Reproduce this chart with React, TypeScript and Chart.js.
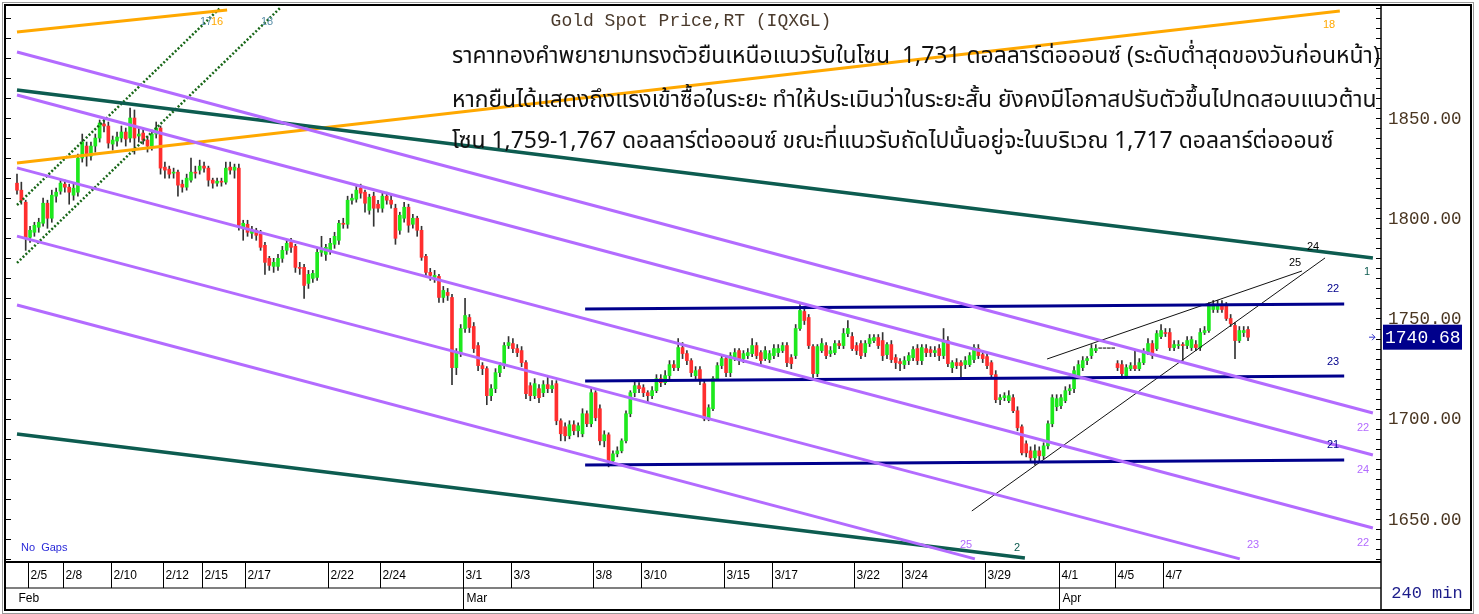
import React, { useEffect, useRef } from "react";
import { Chart, registerables } from "chart.js";

Chart.register(...registerables);

// ---- 240-minute OHLC bars, Gold Spot ----
const opens: number[] = [
  1817.5, 1814, 1808, 1790.5, 1793, 1795.5, 1797.5, 1807.5, 1800, 1811,
  1813.5, 1817, 1815.5, 1811.5, 1813, 1830, 1836, 1831, 1836, 1840,
  1847, 1846, 1837, 1838.5, 1840, 1843, 1840, 1850, 1841, 1842.5,
  1839, 1836, 1842, 1845, 1825.5, 1824.5, 1822.5, 1823, 1817, 1815.5,
  1819, 1823, 1824, 1826, 1825, 1819, 1817.5, 1818.5, 1818, 1825.5,
  1824, 1825, 1795.5, 1797, 1792.5, 1794, 1792, 1786.5, 1780, 1776,
  1776, 1780, 1784, 1788, 1786, 1775.5, 1775.5, 1767.5, 1770, 1770.5,
  1783, 1782, 1784, 1787, 1789, 1797.5, 1797, 1809, 1809.5, 1815,
  1813, 1804, 1811, 1807, 1805, 1811, 1809, 1805, 1794, 1800,
  1805.5, 1797, 1800, 1794, 1781, 1773, 1770.5, 1771, 1760.5, 1763,
  1760.5, 1725.5, 1733, 1745, 1750.5, 1746, 1736.5, 1726.5, 1725, 1711.5,
  1715, 1723, 1726.5, 1736.5, 1737.5, 1735, 1734, 1728, 1716.5, 1711.5,
  1715, 1713, 1717, 1715, 1717.5, 1699, 1696, 1691.5, 1697, 1694,
  1692.5, 1702.5, 1697.5, 1713, 1705, 1689, 1692, 1679, 1682.5, 1684,
  1689, 1702.5, 1713, 1716.5, 1715.5, 1713, 1711.5, 1714, 1720, 1718,
  1721.5, 1727, 1725.5, 1735.5, 1732.5, 1729, 1721.5, 1724.5, 1717.5, 1700,
  1705, 1720, 1726.5, 1730, 1723, 1730.5, 1734, 1730, 1731.5, 1732.5,
  1736.5, 1733, 1730, 1729.5, 1731.5, 1733, 1734, 1736.5, 1730.5, 1731.5,
  1745, 1753.5, 1750.5, 1736, 1722.5, 1734, 1736.5, 1732.5, 1733, 1737.5,
  1736.5, 1742.5, 1741, 1736.5, 1737.5, 1733, 1737.5, 1739, 1740.5, 1739,
  1732, 1737, 1730.5, 1728.5, 1727, 1729, 1730.5, 1735, 1729, 1735,
  1734.5, 1733, 1735, 1731.5, 1739, 1725.5, 1728, 1728, 1727, 1727,
  1729.5, 1735, 1732, 1731, 1728, 1722, 1709.5, 1710.5, 1709, 1710.5,
  1704, 1696, 1687.5, 1684, 1680.5, 1684, 1681.5, 1686.5, 1697.5, 1706,
  1706.5, 1709, 1714, 1715, 1721.5, 1725.5, 1729, 1731.5, 1734, 1735,
  1735, 1735, 1735, 1727.5, 1727, 1721, 1725, 1726.5, 1725, 1728,
  1733, 1737.5, 1735, 1741, 1743, 1743, 1735.5, 1736.5, 1737, 1736.5,
  1735.5, 1737, 1735.5, 1743, 1744, 1754.5, 1754.5, 1757, 1756.5, 1750,
  1746.5, 1739, 1743, 1744.5,
];
const highs: number[] = [
  1822, 1818, 1809, 1796, 1798, 1800, 1810, 1809, 1814, 1815,
  1819, 1819, 1817, 1817, 1832, 1842, 1838, 1838, 1842, 1849,
  1850, 1848, 1841, 1843, 1846, 1845, 1855, 1854, 1845, 1845,
  1841, 1844, 1848, 1846, 1828, 1826, 1825, 1824, 1819, 1822,
  1830, 1826, 1829, 1828, 1826, 1820, 1820, 1820, 1828, 1828,
  1827, 1827, 1799, 1799, 1796, 1795, 1794, 1788, 1781, 1780,
  1782, 1786, 1789, 1790, 1787, 1778, 1777, 1774, 1774, 1785,
  1791, 1787, 1790, 1793, 1799, 1800, 1811, 1812, 1816, 1817,
  1814, 1812, 1813, 1809, 1813, 1813, 1812, 1807, 1803, 1808,
  1807, 1802, 1801, 1796, 1782, 1775, 1774, 1772, 1766, 1765,
  1762, 1735, 1747, 1760, 1752, 1748, 1738, 1728, 1726, 1717,
  1725, 1728, 1738, 1741, 1740, 1737, 1736, 1729, 1718, 1720,
  1717, 1719, 1721, 1719, 1719, 1700, 1698, 1699, 1699, 1698,
  1705, 1704, 1715, 1714, 1707, 1694, 1693, 1684, 1686, 1690,
  1704, 1714, 1719, 1718, 1717, 1714, 1716, 1722, 1722, 1724,
  1729, 1729, 1740, 1738, 1734, 1730, 1726, 1726, 1719, 1707,
  1721, 1728, 1732, 1731, 1733, 1735, 1735, 1734, 1735, 1740,
  1738, 1734, 1736, 1734, 1737, 1737, 1738, 1738, 1732, 1747,
  1757, 1756, 1752, 1737, 1737, 1740, 1738, 1736, 1739, 1739,
  1745, 1749, 1743, 1738, 1739, 1739, 1742, 1742, 1742, 1743,
  1738, 1739, 1732, 1730, 1731, 1733, 1736, 1737, 1737, 1737,
  1736, 1736, 1737, 1745, 1741, 1729, 1730, 1729, 1731, 1733,
  1737, 1737, 1734, 1733, 1729, 1724, 1712, 1713, 1714, 1712,
  1706, 1697, 1689, 1686, 1687, 1686, 1688, 1699, 1712, 1712,
  1712, 1716, 1717, 1726, 1729, 1731, 1731, 1737, 1737, 1735,
  1735, 1735, 1735, 1729, 1729, 1727, 1728, 1734, 1730, 1735,
  1740, 1739, 1744, 1747, 1745, 1745, 1739, 1739, 1738, 1741,
  1741, 1739, 1745, 1746, 1758, 1759, 1759, 1759, 1758, 1752,
  1748, 1746, 1746, 1746,
];
const lows: number[] = [
  1812, 1807, 1784, 1788, 1791, 1793, 1796, 1795, 1798, 1808,
  1812, 1813, 1807, 1809, 1811, 1828, 1826, 1829, 1833, 1838,
  1843, 1835, 1834, 1836, 1838, 1836, 1838, 1832, 1838, 1837,
  1833, 1834, 1840, 1822, 1820, 1820, 1820, 1811, 1813, 1814,
  1818, 1820, 1822, 1823, 1816, 1815, 1816, 1816, 1817, 1822,
  1820, 1794, 1789, 1791, 1790, 1789, 1784, 1772, 1774, 1773,
  1774, 1778, 1782, 1783, 1773, 1772, 1760, 1765, 1768, 1769,
  1781, 1779, 1782, 1785, 1787, 1795, 1795, 1807, 1808, 1810,
  1803, 1802, 1796, 1803, 1803, 1807, 1805, 1787, 1792, 1798,
  1793, 1795, 1791, 1779, 1771, 1769, 1768, 1758, 1758, 1759,
  1717, 1722, 1731, 1743, 1743, 1733, 1724, 1722, 1707, 1709,
  1713, 1721, 1725, 1735, 1733, 1731, 1726, 1710, 1709, 1710,
  1708, 1711, 1713, 1713, 1697, 1689, 1689, 1690, 1692, 1691,
  1691, 1696, 1696, 1699, 1687, 1686, 1676, 1677, 1681, 1683,
  1688, 1701, 1711, 1713, 1711, 1708, 1710, 1713, 1716, 1717,
  1720, 1724, 1724, 1730, 1727, 1721, 1720, 1717, 1699, 1699,
  1704, 1719, 1725, 1721, 1721, 1729, 1727, 1728, 1730, 1731,
  1730, 1727, 1729, 1728, 1730, 1731, 1733, 1726, 1725, 1730,
  1744, 1747, 1735, 1720, 1721, 1733, 1730, 1731, 1732, 1735,
  1735, 1741, 1734, 1732, 1730, 1731, 1736, 1738, 1735, 1729,
  1730, 1728, 1725, 1724, 1725, 1727, 1729, 1727, 1727, 1731,
  1731, 1731, 1729, 1730, 1726, 1723, 1725, 1720, 1725, 1726,
  1728, 1730, 1728, 1725, 1720, 1708, 1707, 1709, 1708, 1703,
  1694, 1682, 1681, 1679, 1677, 1679, 1680, 1685, 1696, 1704,
  1705, 1708, 1712, 1713, 1720, 1724, 1727, 1730, 1733, 1735,
  1735, 1735, 1735, 1724, 1720, 1720, 1724, 1724, 1724, 1727,
  1732, 1730, 1734, 1740, 1741, 1734, 1734, 1735, 1729, 1735,
  1734, 1734, 1734, 1742, 1743, 1753, 1753, 1753, 1749, 1746,
  1730, 1738, 1741, 1739,
];
const closes: number[] = [
  1814, 1809, 1790, 1794, 1796.5, 1798, 1807.5, 1800, 1811.5, 1813,
  1817.5, 1815.5, 1813, 1815, 1830, 1838, 1831, 1836, 1840, 1847.5,
  1846, 1837.5, 1839, 1840.5, 1843, 1839.5, 1850, 1840, 1842, 1839,
  1836, 1842, 1845, 1825, 1824, 1822, 1823, 1816.5, 1815.5, 1820,
  1823, 1822.5, 1826, 1825, 1819, 1817.5, 1818.5, 1818, 1825, 1824,
  1825.5, 1796.5, 1797.5, 1793, 1794, 1791.5, 1785.5, 1778, 1776.5, 1778,
  1780, 1784, 1787.5, 1785.5, 1775.5, 1775, 1766.5, 1772, 1772.5, 1783,
  1784, 1785.5, 1787.5, 1791, 1797.5, 1797, 1809, 1810, 1814, 1812.5,
  1807.5, 1810.5, 1805, 1805, 1811, 1809, 1807, 1790, 1801.5, 1805.5,
  1796.5, 1800, 1794, 1780.5, 1773, 1771.5, 1771.5, 1760.5, 1764, 1761.5,
  1725.5, 1733, 1745, 1751.5, 1745.5, 1735, 1726.5, 1725, 1711.5, 1715,
  1723, 1726.5, 1736.5, 1738, 1735, 1733, 1728, 1712.5, 1711.5, 1717.5,
  1710.5, 1717, 1715, 1716.5, 1699, 1692.5, 1691.5, 1697, 1694, 1696.5,
  1702.5, 1697.5, 1713, 1700.5, 1689, 1692, 1679, 1682.5, 1684, 1689,
  1702.5, 1713, 1716.5, 1715, 1713, 1711.5, 1714, 1720, 1718, 1721.5,
  1727, 1725.5, 1735.5, 1732.5, 1729, 1723, 1724, 1719, 1700, 1705.5,
  1720, 1726.5, 1730, 1723, 1731.5, 1733, 1729, 1732.5, 1733, 1736.5,
  1731.5, 1729, 1734, 1732.5, 1735, 1735, 1736.5, 1728, 1727.5, 1745,
  1754, 1749, 1736.5, 1722.5, 1736, 1737.5, 1731.5, 1734, 1737.5, 1736.5,
  1742.5, 1745, 1735, 1734, 1731.5, 1737.5, 1740, 1740.5, 1736.5, 1731.5,
  1737, 1729.5, 1728, 1727.5, 1729, 1731.5, 1734.5, 1729, 1735.5, 1733,
  1733, 1734, 1731.5, 1739, 1727.5, 1728, 1726.5, 1726.5, 1729, 1731.5,
  1735.5, 1731.5, 1730, 1726.5, 1722, 1709.5, 1710.5, 1711.5, 1711.5, 1704,
  1695.5, 1683, 1683, 1680.5, 1684, 1681.5, 1686.5, 1697.5, 1710.5, 1710,
  1710.5, 1714, 1715, 1724, 1727, 1729, 1730, 1735, 1735, 1735,
  1735, 1735, 1735, 1725.5, 1722.5, 1725.5, 1726.5, 1725, 1728, 1733,
  1737.5, 1731.5, 1742.5, 1744, 1742.5, 1735.5, 1737, 1737, 1736.5, 1739,
  1739.5, 1735.5, 1743, 1744, 1756.5, 1757, 1757, 1754.5, 1750, 1747.5,
  1739, 1744, 1744, 1740.68,
];

// ---- time axis ----
const dayTickLabels = ["2/5", "2/8", "2/10", "2/12", "2/15", "2/17", "2/22", "2/24", "3/1", "3/3", "3/8", "3/10", "3/15", "3/17", "3/22", "3/24", "3/29", "4/1", "4/5", "4/7"];
const dayTickBars = [3, 11, 22, 34, 43, 53, 72, 84, 103, 114, 133, 144, 163, 174, 193, 204, 223, 240, 253, 264];
const monthTickLabels = ["Feb", "Mar", "Apr"];
const monthTickBars = [0, 103, 240];

// ---- price axis ----
const priceTicks = [1650, 1700, 1750, 1800, 1850];
const lastPrice = 1740.68;

// ---- drawn trend lines: [startBar, startPrice, endBar, endPrice] ----
const orangeLines = [
  [0, 1892.9, 48.3, 1903.9],
  [0, 1827.6, 304.1, 1903.4],
];
const greenDottedLines = [
  [0, 1806.6, 46.7, 1904.9],
  [0, 1777.7, 60.5, 1904.9],
];
const tealLines = [
  [0, 1864.0, 311.7, 1780.2],
  [0, 1692.4, 231.7, 1630.6],
];
const purpleLines = [
  [0, 1882.9, 311.7, 1702.9],
  [0, 1861.5, 311.7, 1681.9],
  [0, 1825.1, 311.7, 1645.5],
  [0, 1791.1, 281.1, 1630.1],
  [0, 1756.7, 220.2, 1630.1],
];
const navyLines = [
  [130.6, 1754.7, 305.1, 1757.2],
  [130.6, 1718.8, 305.1, 1721.3],
  [130.6, 1676.9, 305.1, 1679.4],
];
const blackLines = [
  [236.8, 1729.8, 295.4, 1773.7],
  [219.5, 1654.0, 300.7, 1780.2],
];

const titleText = "Gold Spot Price,RT (IQXGL)";
const noteLines = [
  "ราคาทองคำพยายามทรงตัวยืนเหนือแนวรับในโซน  1,731 ดอลลาร์ต่อออนซ์ (ระดับต่ำสุดของวันก่อนหน้า)",
  "หากยืนได้แสดงถึงแรงเข้าซื้อในระยะ ทำให้ประเมินว่าในระยะสั้น ยังคงมีโอกาสปรับตัวขึ้นไปทดสอบแนวต้าน",
  "โซน 1,759-1,767 ดอลลาร์ต่อออนซ์ ขณะที่แนวรับถัดไปนั้นอยู่จะในบริเวณ 1,717 ดอลลาร์ต่อออนซ์",
];

const GREEN = "#1ee81e";
const RED = "#ff2e2e";
const WICK = "#333333";
const PURPLE = "#b36bff";
const TEAL = "#0d5c50";
const ORANGE = "#ffa800";
const NAVY = "#00008c";
const AXIS_TEXT = "#4a3621";
const MONO = '"Liberation Mono", "DejaVu Sans Mono", monospace';
const NARROW = '"Liberation Sans Narrow", "Liberation Sans", Arial, sans-serif';
const THAI = '"Noto Sans Thai", "Noto Sans Thai UI", Tahoma, "Noto Sans", "DejaVu Sans", sans-serif';

const W = 1479;
const H = 614;
const PLOT_L = 7;
const PLOT_T = 7;
const PLOT_R = 1381;
const PLOT_B = 561;
const FRAME_R = 1471;
const FRAME_B = 610;
const DATE_TOP = 562;
const DATE_MID = 588;

function mkLine(l: number[], color: string, width: number, dash: number[] = []) {
  return {
    type: "line" as const,
    data: [
      { x: l[0], y: l[1] },
      { x: l[2], y: l[3] },
    ],
    borderColor: color,
    borderWidth: width,
    borderDash: dash,
    pointRadius: 0,
    fill: false,
    tension: 0,
    order: 0,
  };
}

const decorPlugin = {
  id: "decor",
  beforeDraw(chart: any) {
    const ctx = chart.ctx;
    ctx.save();
    ctx.fillStyle = "#ffffff";
    ctx.fillRect(0, 0, W, H);
    ctx.restore();
  },
  afterDraw(chart: any) {
    const ctx: CanvasRenderingContext2D = chart.ctx;
    const xs = chart.scales.x;
    const ys = chart.scales.y;
    ctx.save();

    // ---- frames ----
    ctx.strokeStyle = "#000";
    ctx.lineWidth = 2;
    ctx.strokeRect(5, 5, FRAME_R - 5, FRAME_B - 5);
    ctx.strokeStyle = "#9a9a9a";
    ctx.lineWidth = 1;
    ctx.strokeRect(2.5, 2.5, FRAME_R - 0, FRAME_B + 1);
    ctx.strokeStyle = "#000";
    ctx.lineWidth = 1.5;
    ctx.beginPath();
    ctx.moveTo(PLOT_R, 5);
    ctx.lineTo(PLOT_R, FRAME_B);
    ctx.stroke();
    ctx.lineWidth = 2;
    ctx.beginPath();
    ctx.moveTo(5, DATE_TOP);
    ctx.lineTo(PLOT_R, DATE_TOP);
    ctx.stroke();
    ctx.lineWidth = 1.2;
    ctx.beginPath();
    ctx.moveTo(5, DATE_MID);
    ctx.lineTo(PLOT_R, DATE_MID);
    ctx.stroke();

    // ---- price ticks ----
    ctx.strokeStyle = "#000";
    ctx.lineWidth = 1;
    for (let p = 1630; p <= 1905; p += 5) {
      const y = Math.round(ys.getPixelForValue(p)) + 0.5;
      if (y < PLOT_T || y > PLOT_B) continue;
      ctx.beginPath();
      ctx.moveTo(PLOT_R - 5, y);
      ctx.lineTo(PLOT_R, y);
      ctx.stroke();
      if (p % 10 === 0) {
        ctx.beginPath();
        ctx.moveTo(6, y);
        ctx.lineTo(11, y);
        ctx.stroke();
      }
    }
    ctx.font = `17.5px ${MONO}`;
    ctx.fillStyle = AXIS_TEXT;
    ctx.textAlign = "left";
    ctx.textBaseline = "middle";
    priceTicks.forEach((p) => {
      ctx.fillText(p.toFixed(2), 1388, ys.getPixelForValue(p) + 1);
    });

    // last price box
    const ly = ys.getPixelForValue(lastPrice);
    ctx.fillStyle = NAVY;
    ctx.fillRect(1383, ly - 12.5, 79, 25);
    ctx.fillStyle = "#fff";
    ctx.font = `18px ${MONO}`;
    ctx.fillText(lastPrice.toFixed(2), 1385, ly + 1);
    ctx.strokeStyle = "#3333cc";
    ctx.lineWidth = 1;
    ctx.beginPath();
    ctx.moveTo(1369, ly);
    ctx.lineTo(1375, ly);
    ctx.moveTo(1372, ly - 3);
    ctx.lineTo(1375, ly);
    ctx.lineTo(1372, ly + 3);
    ctx.stroke();

    // "240 min"
    ctx.fillStyle = "#1c1c8a";
    ctx.font = `17px ${MONO}`;
    ctx.textAlign = "center";
    ctx.fillText("240 min", 1427, 593);

    // ---- date axis ----
    ctx.strokeStyle = "#000";
    ctx.lineWidth = 1;
    ctx.fillStyle = "#000";
    ctx.font = `12px ${NARROW}`;
    ctx.textAlign = "left";
    dayTickBars.forEach((b, k) => {
      const x = Math.round(xs.getPixelForValue(b - 0.5)) + 0.5;
      ctx.beginPath();
      ctx.moveTo(x, DATE_TOP);
      ctx.lineTo(x, DATE_MID);
      ctx.stroke();
      ctx.fillText(dayTickLabels[k], x + 2, 576);
    });
    monthTickBars.forEach((b, k) => {
      const x = Math.round(xs.getPixelForValue(b - 0.5)) + 0.5;
      if (b > 0) {
        ctx.beginPath();
        ctx.moveTo(x, DATE_MID);
        ctx.lineTo(x, FRAME_B);
        ctx.stroke();
      }
      ctx.fillText(monthTickLabels[k], x + 3, 599);
    });

    // "No Gaps"
    ctx.fillStyle = "#2a2ad8";
    ctx.font = `11px ${NARROW}`;
    ctx.fillText("No  Gaps", 21, 548);

    // ---- line labels ----
    const lab = (t: string, x: number, y: number, c: string) => {
      ctx.fillStyle = c;
      ctx.font = `11px ${NARROW}`;
      ctx.textAlign = "center";
      ctx.fillText(t, x, y);
    };
    lab("17", 206, 22, "#5a8fa8");
    lab("16", 217, 22, ORANGE);
    lab("18", 267, 22, "#5a8fa8");
    lab("18", 1329, 25, ORANGE);
    lab("24", 1313, 247, "#000");
    lab("25", 1295, 263, "#000");
    lab("1", 1367, 272, TEAL);
    lab("2", 1017, 548, TEAL);
    lab("22", 1333, 289, NAVY);
    lab("23", 1333, 362, NAVY);
    lab("21", 1333, 445, NAVY);
    lab("22", 1363, 428, PURPLE);
    lab("24", 1363, 470, PURPLE);
    lab("22", 1363, 543, PURPLE);
    lab("25", 966, 545, PURPLE);
    lab("23", 1253, 545, PURPLE);

    // ---- title ----
    ctx.fillStyle = "#4a3a2c";
    ctx.font = `18px ${MONO}`;
    ctx.textAlign = "center";
    ctx.textBaseline = "middle";
    ctx.fillText(titleText, 691, 21);

    // ---- Thai commentary ----
    ctx.textAlign = "left";
    ctx.fillStyle = "#111";
    let size = 20;
    ctx.font = `${size}px ${THAI}`;
    const w0 = ctx.measureText(noteLines[0]).width;
    if (w0 > 0) size = (size * 928) / w0;
    ctx.font = `${size}px ${THAI}`;
    const ny = [58, 102, 143];
    noteLines.forEach((t, k) => ctx.fillText(t, 452, ny[k]));

    ctx.restore();
  },
};

export default function App() {
  const ref = useRef<HTMLCanvasElement>(null);
  useEffect(() => {
    const canvas = ref.current;
    if (!canvas) return;
    const idx = opens.map((_, i) => i);
    const wickData = idx.map((i) => ({ x: i, y: [lows[i], highs[i]] }));
    const bodyData = idx.map((i) => ({ x: i, y: [opens[i], closes[i]] }));
    const bodyColors = idx.map((i) =>
      closes[i] > opens[i] ? GREEN : closes[i] < opens[i] ? RED : "#666"
    );

    const datasets: any[] = [
      ...purpleLines.map((l) => mkLine(l, PURPLE, 3)),
      ...tealLines.map((l) => mkLine(l, TEAL, 3.5)),
      ...orangeLines.map((l) => mkLine(l, ORANGE, 3)),
      ...greenDottedLines.map((l) => mkLine(l, "#176617", 2.5, [2, 2])),
      ...navyLines.map((l) => mkLine(l, NAVY, 3)),
      ...blackLines.map((l) => mkLine(l, "#111", 1)),
      {
        type: "bar",
        data: bodyData,
        backgroundColor: bodyColors,
        borderWidth: 0,
        barThickness: 3,
        minBarLength: 1,
        grouped: false,
        order: 1,
      },
      {
        type: "bar",
        data: wickData,
        backgroundColor: WICK,
        borderWidth: 0,
        barThickness: 1,
        grouped: false,
        order: 2,
      },
    ];

    const chart = new Chart(canvas, {
      type: "bar",
      data: { datasets },
      options: {
        animation: false,
        responsive: true,
        maintainAspectRatio: false,
        events: [],
        layout: {
          padding: { left: PLOT_L, top: PLOT_T, right: W - PLOT_R, bottom: H - PLOT_B },
        },
        plugins: { legend: { display: false }, tooltip: { enabled: false } },
        scales: {
          x: {
            type: "linear",
            display: false,
            offset: false,
            min: -(17 - PLOT_L) / 4.35,
            max: -(17 - PLOT_L) / 4.35 + (PLOT_R - PLOT_L) / 4.35,
          },
          y: {
            type: "linear",
            display: false,
            min: 1850 - (PLOT_B - 118) / 2.005,
            max: 1850 + (118 - PLOT_T) / 2.005,
          },
        },
      } as any,
      plugins: [decorPlugin],
    });
    return () => chart.destroy();
  }, []);

  return (
    <div style={{ position: "fixed", left: 0, top: 0, width: W, height: H, background: "#fff" }}>
      <canvas ref={ref} />
    </div>
  );
}
